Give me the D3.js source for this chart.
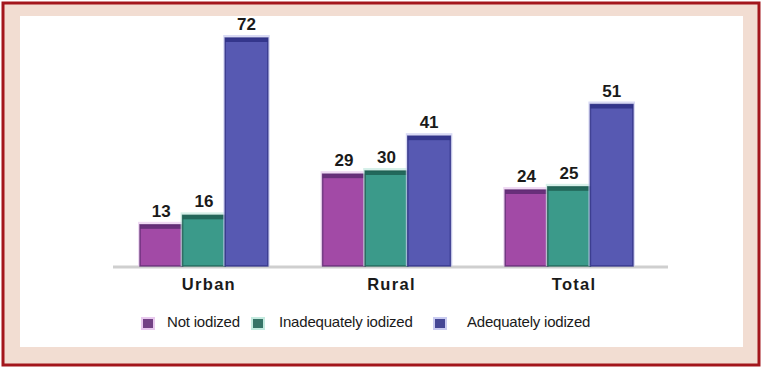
<!DOCTYPE html>
<html>
<head>
<meta charset="utf-8">
<script src="https://cdn.jsdelivr.net/npm/d3@7"></script>
<style>
  html, body { margin: 0; padding: 0; background: #ffffff; }
  svg { display: block; }
</style>
</head>
<body>
<svg id="chart" width="761" height="367"></svg>
<script>
// Iodized salt consumption by area (%)
const categories = ["Urban", "Rural", "Total"];
const seriesNames = ["Not iodized", "Inadequately iodized", "Adequately iodized"];
const notIodized = [13, 29, 24];
const inadequatelyIodized = [16, 30, 25];
const adequatelyIodized = [72, 41, 51];

const seriesValues = [notIodized, inadequatelyIodized, adequatelyIodized];
const fills = ["#a24aa6", "#3b9a8a", "#5759b2"];
const edges = ["#5e2a72", "#1f5f52", "#2e3085"];
const halos = ["#e8c9ee", "#c4eadf", "#c9cbf0"];

const svg = d3.select("#chart");
const W = 761, H = 367;

// Frame: dark red border, peach mat, white panel
svg.append("rect").attr("x", 0).attr("y", 0).attr("width", W).attr("height", H).attr("fill", "#ffffff");
svg.append("rect").attr("x", 3).attr("y", 3).attr("width", W - 5).attr("height", H - 5)
  .attr("fill", "#f2ddd2").attr("stroke", "#a3161c").attr("stroke-width", 3);
svg.append("rect").attr("x", 20).attr("y", 16).attr("width", 723).attr("height", 331).attr("fill", "#ffffff");

const baseY = 266;
const x0 = d3.scaleBand().domain(categories).range([140, 633]).paddingInner(0.3).paddingOuter(0);
const x1 = d3.scaleBand().domain(d3.range(seriesNames.length)).range([0, x0.bandwidth()]).padding(0);
const y = d3.scaleLinear().domain([0, 72]).range([baseY, 38]);

// Baseline
svg.append("line").attr("x1", 113).attr("x2", 668).attr("y1", baseY + 1).attr("y2", baseY + 1)
  .attr("stroke", "#cfcfcf").attr("stroke-width", 3);

const groups = svg.selectAll("g.grp").data(categories).join("g")
  .attr("class", "grp")
  .attr("transform", d => `translate(${x0(d)},0)`);

groups.each(function (cat, ci) {
  const g = d3.select(this);
  seriesValues.forEach((vals, si) => {
    const v = vals[ci];
    const bx = x1(si), bw = x1.bandwidth(), by = y(v), bh = baseY - y(v);
    // soft halo around the bar
    g.append("rect").attr("x", bx - 2).attr("y", by - 3).attr("width", bw + 4).attr("height", bh + 3)
      .attr("fill", halos[si]).attr("opacity", 0.7);
    g.append("rect").attr("x", bx).attr("y", by).attr("width", bw).attr("height", bh)
      .attr("fill", fills[si]).attr("stroke", edges[si]).attr("stroke-width", 1.5).attr("stroke-opacity", 0.8);
    // darker top band
    g.append("rect").attr("x", bx).attr("y", by).attr("width", bw).attr("height", 4)
      .attr("fill", edges[si]).attr("opacity", 0.85);
    g.append("text").attr("x", bx + bw / 2).attr("y", by - 8)
      .attr("text-anchor", "middle")
      .attr("font-family", "Liberation Sans, Arial, sans-serif")
      .attr("font-weight", "bold").attr("font-size", 17).attr("fill", "#1a1a1a")
      .text(v);
  });
  g.append("text").attr("x", x0.bandwidth() / 2 + 5).attr("y", 290)
    .attr("text-anchor", "middle")
    .attr("font-family", "Liberation Sans, Arial, sans-serif")
    .attr("font-weight", "bold").attr("font-size", 16.5).attr("letter-spacing", 1.3).attr("fill", "#1a1a1a")
    .text(cat);
});

// Legend
const legendX = [148, 258, 440];
const legendTextX = [167, 279, 467];
const legend = svg.append("g");
seriesNames.forEach((name, i) => {
  legend.append("rect").attr("x", legendX[i] - 7).attr("y", 317).attr("width", 14).attr("height", 13)
    .attr("fill", halos[i]);
  legend.append("rect").attr("x", legendX[i] - 5).attr("y", 319).attr("width", 10).attr("height", 9)
    .attr("fill", edges[i]).attr("opacity", 0.85);
  legend.append("text").attr("x", legendTextX[i]).attr("y", 327)
    .attr("font-family", "Liberation Sans, Arial, sans-serif")
    .attr("font-size", 15).attr("letter-spacing", -0.2).attr("fill", "#1a1a1a")
    .text(name);
});
</script>
</body>
</html>
